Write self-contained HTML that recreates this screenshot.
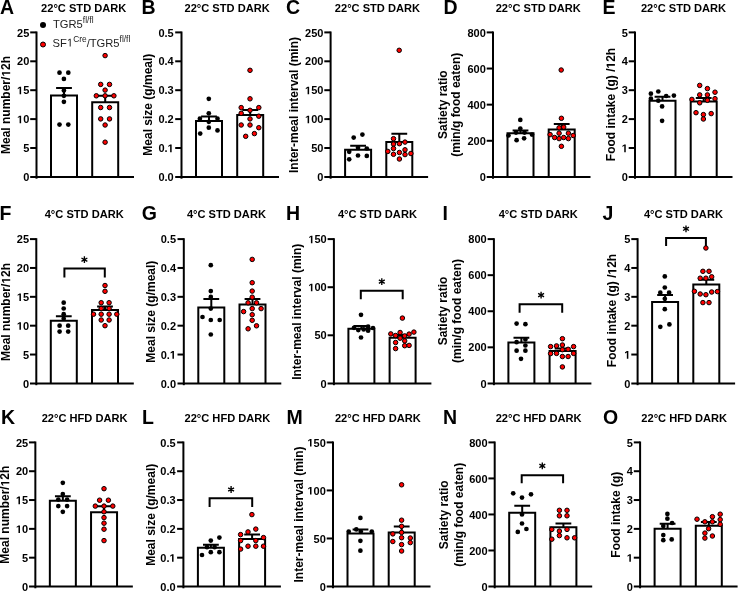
<!DOCTYPE html>
<html><head><meta charset="utf-8"><style>
html,body{margin:0;padding:0;background:#fff;}
body{width:738px;height:591px;overflow:hidden;}
svg{display:block;will-change:transform;}
text{font-family:"Liberation Sans", sans-serif;fill:#000;font-variant-ligatures:none;}
.tk{font-size:11px;font-weight:bold;}
.ti{font-size:11.1px;font-weight:bold;}
.lt{font-size:19.5px;font-weight:bold;}
.yl{font-size:12px;font-weight:bold;}
.ast{font-size:15px;font-weight:normal;}
.lg{font-size:11.2px;fill:#222;}
.sup{font-size:8.4px;}
</style></head><body>
<svg width="738" height="591" viewBox="0 0 738 591">
<rect width="738" height="591" fill="#fff"/>
<line x1="36.5" y1="31.5" x2="36.5" y2="178.7" stroke="#000" stroke-width="2.0"/>
<line x1="30.2" y1="176.9" x2="134" y2="176.9" stroke="#000" stroke-width="2.0"/>
<text x="29.3" y="181.05" text-anchor="end" class="tk">0</text>
<line x1="30.2" y1="148" x2="36.5" y2="148" stroke="#000" stroke-width="2.0"/>
<text x="29.3" y="152.15" text-anchor="end" class="tk">5</text>
<line x1="30.2" y1="119.1" x2="36.5" y2="119.1" stroke="#000" stroke-width="2.0"/>
<text x="29.3" y="123.25" text-anchor="end" class="tk"> 0</text>
<line x1="30.2" y1="90.2" x2="36.5" y2="90.2" stroke="#000" stroke-width="2.0"/>
<text x="29.3" y="94.35" text-anchor="end" class="tk"> 5</text>
<line x1="30.2" y1="61.3" x2="36.5" y2="61.3" stroke="#000" stroke-width="2.0"/>
<text x="29.3" y="65.45" text-anchor="end" class="tk">20</text>
<line x1="30.2" y1="32.4" x2="36.5" y2="32.4" stroke="#000" stroke-width="2.0"/>
<text x="29.3" y="36.55" text-anchor="end" class="tk">25</text>
<path d="M51 176.9V95.5H77V176.9" fill="none" stroke="#000" stroke-width="2.0"/>
<path d="M92.2 176.9V102.3H118.2V176.9" fill="none" stroke="#000" stroke-width="2.0"/>
<path d="M64 95.5V87.9M56.1 87.9H71.9" fill="none" stroke="#000" stroke-width="2.0"/>
<path d="M105.2 102.3V95.8M97.3 95.8H113.1" fill="none" stroke="#000" stroke-width="2.0"/>
<circle cx="59.5" cy="72.7" r="2.35" fill="#000"/>
<circle cx="68.3" cy="72.7" r="2.35" fill="#000"/>
<circle cx="63.9" cy="78.9" r="2.35" fill="#000"/>
<circle cx="63.9" cy="90.4" r="2.35" fill="#000"/>
<circle cx="63.9" cy="95.8" r="2.35" fill="#000"/>
<circle cx="63.9" cy="101.8" r="2.35" fill="#000"/>
<circle cx="59.5" cy="124.6" r="2.35" fill="#000"/>
<circle cx="68.3" cy="124.6" r="2.35" fill="#000"/>
<circle cx="105.1" cy="55.6" r="2.25" fill="#f00" stroke="#000" stroke-width="1"/>
<circle cx="100.7" cy="84.4" r="2.25" fill="#f00" stroke="#000" stroke-width="1"/>
<circle cx="109.5" cy="84.4" r="2.25" fill="#f00" stroke="#000" stroke-width="1"/>
<circle cx="105.1" cy="90.1" r="2.25" fill="#f00" stroke="#000" stroke-width="1"/>
<circle cx="96.3" cy="95.8" r="2.25" fill="#f00" stroke="#000" stroke-width="1"/>
<circle cx="105.1" cy="95.8" r="2.25" fill="#f00" stroke="#000" stroke-width="1"/>
<circle cx="113.9" cy="95.8" r="2.25" fill="#f00" stroke="#000" stroke-width="1"/>
<circle cx="100.7" cy="107.5" r="2.25" fill="#f00" stroke="#000" stroke-width="1"/>
<circle cx="109.5" cy="107.5" r="2.25" fill="#f00" stroke="#000" stroke-width="1"/>
<circle cx="100.7" cy="118.9" r="2.25" fill="#f00" stroke="#000" stroke-width="1"/>
<circle cx="109.5" cy="118.9" r="2.25" fill="#f00" stroke="#000" stroke-width="1"/>
<circle cx="105.1" cy="125" r="2.25" fill="#f00" stroke="#000" stroke-width="1"/>
<circle cx="105.1" cy="142.2" r="2.25" fill="#f00" stroke="#000" stroke-width="1"/>
<text x="41.1" y="12.3" class="ti">22°C STD DARK</text>
<text x="0" y="13.8" class="lt">A</text>
<text transform="translate(10.2 105) rotate(-90)" text-anchor="middle" class="yl">Meal number/ 2h</text>
<line x1="181.5" y1="31.5" x2="181.5" y2="178.7" stroke="#000" stroke-width="2.0"/>
<line x1="175.2" y1="176.9" x2="279" y2="176.9" stroke="#000" stroke-width="2.0"/>
<text x="173.7" y="181.05" text-anchor="end" class="tk">0.0</text>
<line x1="175.2" y1="148" x2="181.5" y2="148" stroke="#000" stroke-width="2.0"/>
<text x="173.7" y="152.15" text-anchor="end" class="tk">0. </text>
<line x1="175.2" y1="119.1" x2="181.5" y2="119.1" stroke="#000" stroke-width="2.0"/>
<text x="173.7" y="123.25" text-anchor="end" class="tk">0.2</text>
<line x1="175.2" y1="90.2" x2="181.5" y2="90.2" stroke="#000" stroke-width="2.0"/>
<text x="173.7" y="94.35" text-anchor="end" class="tk">0.3</text>
<line x1="175.2" y1="61.3" x2="181.5" y2="61.3" stroke="#000" stroke-width="2.0"/>
<text x="173.7" y="65.45" text-anchor="end" class="tk">0.4</text>
<line x1="175.2" y1="32.4" x2="181.5" y2="32.4" stroke="#000" stroke-width="2.0"/>
<text x="173.7" y="36.55" text-anchor="end" class="tk">0.5</text>
<path d="M196 176.9V120.9H222V176.9" fill="none" stroke="#000" stroke-width="2.0"/>
<path d="M237.2 176.9V115.1H263.2V176.9" fill="none" stroke="#000" stroke-width="2.0"/>
<path d="M209 120.9V116.4M201.1 116.4H216.9" fill="none" stroke="#000" stroke-width="2.0"/>
<path d="M250.2 115.1V110M242.3 110H258.1" fill="none" stroke="#000" stroke-width="2.0"/>
<circle cx="208.8" cy="98.8" r="2.35" fill="#000"/>
<circle cx="208.8" cy="113.3" r="2.35" fill="#000"/>
<circle cx="199.9" cy="118.7" r="2.35" fill="#000"/>
<circle cx="217.5" cy="118.7" r="2.35" fill="#000"/>
<circle cx="208.8" cy="121.8" r="2.35" fill="#000"/>
<circle cx="208.8" cy="127.7" r="2.35" fill="#000"/>
<circle cx="200.2" cy="133.6" r="2.35" fill="#000"/>
<circle cx="217.5" cy="130.4" r="2.35" fill="#000"/>
<circle cx="250" cy="70.3" r="2.25" fill="#f00" stroke="#000" stroke-width="1"/>
<circle cx="250" cy="98.8" r="2.25" fill="#f00" stroke="#000" stroke-width="1"/>
<circle cx="241.2" cy="107.6" r="2.25" fill="#f00" stroke="#000" stroke-width="1"/>
<circle cx="258.8" cy="107.6" r="2.25" fill="#f00" stroke="#000" stroke-width="1"/>
<circle cx="250" cy="110.3" r="2.25" fill="#f00" stroke="#000" stroke-width="1"/>
<circle cx="241.2" cy="113.3" r="2.25" fill="#f00" stroke="#000" stroke-width="1"/>
<circle cx="258.8" cy="116.2" r="2.25" fill="#f00" stroke="#000" stroke-width="1"/>
<circle cx="250" cy="118.9" r="2.25" fill="#f00" stroke="#000" stroke-width="1"/>
<circle cx="241.2" cy="125" r="2.25" fill="#f00" stroke="#000" stroke-width="1"/>
<circle cx="250" cy="125" r="2.25" fill="#f00" stroke="#000" stroke-width="1"/>
<circle cx="258.8" cy="127.7" r="2.25" fill="#f00" stroke="#000" stroke-width="1"/>
<circle cx="254.4" cy="133.6" r="2.25" fill="#f00" stroke="#000" stroke-width="1"/>
<circle cx="245.7" cy="136.3" r="2.25" fill="#f00" stroke="#000" stroke-width="1"/>
<text x="184.5" y="12.3" class="ti">22°C STD DARK</text>
<text x="141.4" y="13.8" class="lt">B</text>
<text transform="translate(152.3 104.7) rotate(-90)" text-anchor="middle" class="yl">Meal size (g/meal)</text>
<line x1="330.6" y1="31.5" x2="330.6" y2="178.7" stroke="#000" stroke-width="2.0"/>
<line x1="324.3" y1="176.9" x2="428.1" y2="176.9" stroke="#000" stroke-width="2.0"/>
<text x="323.4" y="181.05" text-anchor="end" class="tk">0</text>
<line x1="324.3" y1="148" x2="330.6" y2="148" stroke="#000" stroke-width="2.0"/>
<text x="323.4" y="152.15" text-anchor="end" class="tk">50</text>
<line x1="324.3" y1="119.1" x2="330.6" y2="119.1" stroke="#000" stroke-width="2.0"/>
<text x="323.4" y="123.25" text-anchor="end" class="tk"> 00</text>
<line x1="324.3" y1="90.2" x2="330.6" y2="90.2" stroke="#000" stroke-width="2.0"/>
<text x="323.4" y="94.35" text-anchor="end" class="tk"> 50</text>
<line x1="324.3" y1="61.3" x2="330.6" y2="61.3" stroke="#000" stroke-width="2.0"/>
<text x="323.4" y="65.45" text-anchor="end" class="tk">200</text>
<line x1="324.3" y1="32.4" x2="330.6" y2="32.4" stroke="#000" stroke-width="2.0"/>
<text x="323.4" y="36.55" text-anchor="end" class="tk">250</text>
<path d="M345.1 176.9V149.8H371.1V176.9" fill="none" stroke="#000" stroke-width="2.0"/>
<path d="M386.3 176.9V142H412.3V176.9" fill="none" stroke="#000" stroke-width="2.0"/>
<path d="M358.1 149.8V145.7M350.2 145.7H366" fill="none" stroke="#000" stroke-width="2.0"/>
<path d="M399.3 142V133.8M391.4 133.8H407.2" fill="none" stroke="#000" stroke-width="2.0"/>
<circle cx="353.7" cy="137.6" r="2.35" fill="#000"/>
<circle cx="362.4" cy="134.6" r="2.35" fill="#000"/>
<circle cx="349.2" cy="151.8" r="2.35" fill="#000"/>
<circle cx="358" cy="147.8" r="2.35" fill="#000"/>
<circle cx="366.8" cy="148.5" r="2.35" fill="#000"/>
<circle cx="358" cy="155.5" r="2.35" fill="#000"/>
<circle cx="366.8" cy="155.9" r="2.35" fill="#000"/>
<circle cx="349.2" cy="159.3" r="2.35" fill="#000"/>
<circle cx="399.2" cy="50.3" r="2.25" fill="#f00" stroke="#000" stroke-width="1"/>
<circle cx="393.5" cy="138.7" r="2.25" fill="#f00" stroke="#000" stroke-width="1"/>
<circle cx="393.5" cy="144.1" r="2.25" fill="#f00" stroke="#000" stroke-width="1"/>
<circle cx="399.4" cy="143.7" r="2.25" fill="#f00" stroke="#000" stroke-width="1"/>
<circle cx="405" cy="142.1" r="2.25" fill="#f00" stroke="#000" stroke-width="1"/>
<circle cx="393.5" cy="148.5" r="2.25" fill="#f00" stroke="#000" stroke-width="1"/>
<circle cx="405" cy="149.8" r="2.25" fill="#f00" stroke="#000" stroke-width="1"/>
<circle cx="387.8" cy="151.4" r="2.25" fill="#f00" stroke="#000" stroke-width="1"/>
<circle cx="399.4" cy="152.5" r="2.25" fill="#f00" stroke="#000" stroke-width="1"/>
<circle cx="393.5" cy="154.3" r="2.25" fill="#f00" stroke="#000" stroke-width="1"/>
<circle cx="405" cy="154.6" r="2.25" fill="#f00" stroke="#000" stroke-width="1"/>
<circle cx="410.9" cy="153.5" r="2.25" fill="#f00" stroke="#000" stroke-width="1"/>
<circle cx="399.4" cy="159" r="2.25" fill="#f00" stroke="#000" stroke-width="1"/>
<text x="334.8" y="12.3" class="ti">22°C STD DARK</text>
<text x="286" y="13.8" class="lt">C</text>
<text transform="translate(297.55 105) rotate(-90)" text-anchor="middle" class="yl">Inter-meal interval (min)</text>
<line x1="493" y1="31.5" x2="493" y2="178.7" stroke="#000" stroke-width="2.0"/>
<line x1="486.7" y1="176.9" x2="590.5" y2="176.9" stroke="#000" stroke-width="2.0"/>
<text x="485.8" y="181.05" text-anchor="end" class="tk">0</text>
<line x1="486.7" y1="140.78" x2="493" y2="140.78" stroke="#000" stroke-width="2.0"/>
<text x="485.8" y="144.93" text-anchor="end" class="tk">200</text>
<line x1="486.7" y1="104.65" x2="493" y2="104.65" stroke="#000" stroke-width="2.0"/>
<text x="485.8" y="108.8" text-anchor="end" class="tk">400</text>
<line x1="486.7" y1="68.53" x2="493" y2="68.53" stroke="#000" stroke-width="2.0"/>
<text x="485.8" y="72.68" text-anchor="end" class="tk">600</text>
<line x1="486.7" y1="32.4" x2="493" y2="32.4" stroke="#000" stroke-width="2.0"/>
<text x="485.8" y="36.55" text-anchor="end" class="tk">800</text>
<path d="M507.5 176.9V133.3H533.5V176.9" fill="none" stroke="#000" stroke-width="2.0"/>
<path d="M548.7 176.9V129.5H574.7V176.9" fill="none" stroke="#000" stroke-width="2.0"/>
<path d="M520.5 133.3V130.5M512.6 130.5H528.4" fill="none" stroke="#000" stroke-width="2.0"/>
<path d="M561.7 129.5V124M553.8 124H569.6" fill="none" stroke="#000" stroke-width="2.0"/>
<circle cx="520.3" cy="119.9" r="2.35" fill="#000"/>
<circle cx="520.3" cy="128.5" r="2.35" fill="#000"/>
<circle cx="524.5" cy="132.6" r="2.35" fill="#000"/>
<circle cx="516" cy="132.6" r="2.35" fill="#000"/>
<circle cx="508.5" cy="135.5" r="2.35" fill="#000"/>
<circle cx="532" cy="134.6" r="2.35" fill="#000"/>
<circle cx="516.6" cy="140.2" r="2.35" fill="#000"/>
<circle cx="524.1" cy="138.3" r="2.35" fill="#000"/>
<circle cx="561.2" cy="70" r="2.25" fill="#f00" stroke="#000" stroke-width="1"/>
<circle cx="561.4" cy="118.3" r="2.25" fill="#f00" stroke="#000" stroke-width="1"/>
<circle cx="559.1" cy="127.8" r="2.25" fill="#f00" stroke="#000" stroke-width="1"/>
<circle cx="563.7" cy="127.1" r="2.25" fill="#f00" stroke="#000" stroke-width="1"/>
<circle cx="559.1" cy="133.2" r="2.25" fill="#f00" stroke="#000" stroke-width="1"/>
<circle cx="568.4" cy="133.2" r="2.25" fill="#f00" stroke="#000" stroke-width="1"/>
<circle cx="550.1" cy="134.6" r="2.25" fill="#f00" stroke="#000" stroke-width="1"/>
<circle cx="573.2" cy="135.5" r="2.25" fill="#f00" stroke="#000" stroke-width="1"/>
<circle cx="554.6" cy="137.5" r="2.25" fill="#f00" stroke="#000" stroke-width="1"/>
<circle cx="559.1" cy="138.6" r="2.25" fill="#f00" stroke="#000" stroke-width="1"/>
<circle cx="563.7" cy="137.5" r="2.25" fill="#f00" stroke="#000" stroke-width="1"/>
<circle cx="568.4" cy="138.6" r="2.25" fill="#f00" stroke="#000" stroke-width="1"/>
<circle cx="561.4" cy="146.3" r="2.25" fill="#f00" stroke="#000" stroke-width="1"/>
<text x="495.7" y="12.3" class="ti">22°C STD DARK</text>
<text x="443.4" y="13.8" class="lt">D</text>
<text transform="translate(446.5 104.7) rotate(-90)" text-anchor="middle" class="yl">Satiety ratio</text>
<text transform="translate(460.1 104.7) rotate(-90)" text-anchor="middle" class="yl">(min/g food eaten)</text>
<line x1="635" y1="31.5" x2="635" y2="178.7" stroke="#000" stroke-width="2.0"/>
<line x1="628.7" y1="176.9" x2="732.5" y2="176.9" stroke="#000" stroke-width="2.0"/>
<text x="627.8" y="181.05" text-anchor="end" class="tk">0</text>
<line x1="628.7" y1="148" x2="635" y2="148" stroke="#000" stroke-width="2.0"/>
<text x="627.8" y="152.15" text-anchor="end" class="tk"> </text>
<line x1="628.7" y1="119.1" x2="635" y2="119.1" stroke="#000" stroke-width="2.0"/>
<text x="627.8" y="123.25" text-anchor="end" class="tk">2</text>
<line x1="628.7" y1="90.2" x2="635" y2="90.2" stroke="#000" stroke-width="2.0"/>
<text x="627.8" y="94.35" text-anchor="end" class="tk">3</text>
<line x1="628.7" y1="61.3" x2="635" y2="61.3" stroke="#000" stroke-width="2.0"/>
<text x="627.8" y="65.45" text-anchor="end" class="tk">4</text>
<line x1="628.7" y1="32.4" x2="635" y2="32.4" stroke="#000" stroke-width="2.0"/>
<text x="627.8" y="36.55" text-anchor="end" class="tk">5</text>
<path d="M649.5 176.9V100.7H675.5V176.9" fill="none" stroke="#000" stroke-width="2.0"/>
<path d="M690.7 176.9V101.4H716.7V176.9" fill="none" stroke="#000" stroke-width="2.0"/>
<path d="M662.5 100.7V96.7M654.6 96.7H670.4" fill="none" stroke="#000" stroke-width="2.0"/>
<path d="M703.7 101.4V98M695.8 98H711.6" fill="none" stroke="#000" stroke-width="2.0"/>
<circle cx="650.9" cy="93.7" r="2.35" fill="#000"/>
<circle cx="658.3" cy="91.5" r="2.35" fill="#000"/>
<circle cx="650.9" cy="98.7" r="2.35" fill="#000"/>
<circle cx="666.2" cy="96" r="2.35" fill="#000"/>
<circle cx="673.9" cy="95.6" r="2.35" fill="#000"/>
<circle cx="658.3" cy="100.7" r="2.35" fill="#000"/>
<circle cx="662.1" cy="106.4" r="2.35" fill="#000"/>
<circle cx="662.1" cy="120.8" r="2.35" fill="#000"/>
<circle cx="699.7" cy="85.4" r="2.25" fill="#f00" stroke="#000" stroke-width="1"/>
<circle cx="707.4" cy="88.6" r="2.25" fill="#f00" stroke="#000" stroke-width="1"/>
<circle cx="715" cy="92.2" r="2.25" fill="#f00" stroke="#000" stroke-width="1"/>
<circle cx="699.7" cy="94.9" r="2.25" fill="#f00" stroke="#000" stroke-width="1"/>
<circle cx="707.4" cy="94.9" r="2.25" fill="#f00" stroke="#000" stroke-width="1"/>
<circle cx="691.9" cy="99.4" r="2.25" fill="#f00" stroke="#000" stroke-width="1"/>
<circle cx="715" cy="98.7" r="2.25" fill="#f00" stroke="#000" stroke-width="1"/>
<circle cx="707.4" cy="100.3" r="2.25" fill="#f00" stroke="#000" stroke-width="1"/>
<circle cx="699.7" cy="102.8" r="2.25" fill="#f00" stroke="#000" stroke-width="1"/>
<circle cx="696" cy="112.7" r="2.25" fill="#f00" stroke="#000" stroke-width="1"/>
<circle cx="703.4" cy="114.6" r="2.25" fill="#f00" stroke="#000" stroke-width="1"/>
<circle cx="711.2" cy="113.6" r="2.25" fill="#f00" stroke="#000" stroke-width="1"/>
<circle cx="703.4" cy="119" r="2.25" fill="#f00" stroke="#000" stroke-width="1"/>
<text x="640.9" y="12.3" class="ti">22°C STD DARK</text>
<text x="602.5" y="13.8" class="lt">E</text>
<text transform="translate(614.9 104.5) rotate(-90)" text-anchor="middle" class="yl">Food intake (g) / 2h</text>
<line x1="36.3" y1="238.2" x2="36.3" y2="385.2" stroke="#000" stroke-width="2.0"/>
<line x1="30" y1="383.4" x2="133.8" y2="383.4" stroke="#000" stroke-width="2.0"/>
<text x="29.1" y="387.55" text-anchor="end" class="tk">0</text>
<line x1="30" y1="354.54" x2="36.3" y2="354.54" stroke="#000" stroke-width="2.0"/>
<text x="29.1" y="358.69" text-anchor="end" class="tk">5</text>
<line x1="30" y1="325.68" x2="36.3" y2="325.68" stroke="#000" stroke-width="2.0"/>
<text x="29.1" y="329.83" text-anchor="end" class="tk"> 0</text>
<line x1="30" y1="296.82" x2="36.3" y2="296.82" stroke="#000" stroke-width="2.0"/>
<text x="29.1" y="300.97" text-anchor="end" class="tk"> 5</text>
<line x1="30" y1="267.96" x2="36.3" y2="267.96" stroke="#000" stroke-width="2.0"/>
<text x="29.1" y="272.11" text-anchor="end" class="tk">20</text>
<line x1="30" y1="239.1" x2="36.3" y2="239.1" stroke="#000" stroke-width="2.0"/>
<text x="29.1" y="243.25" text-anchor="end" class="tk">25</text>
<path d="M50.8 383.4V320.7H76.8V383.4" fill="none" stroke="#000" stroke-width="2.0"/>
<path d="M92 383.4V309.9H118V383.4" fill="none" stroke="#000" stroke-width="2.0"/>
<path d="M63.8 320.7V316.2M55.9 316.2H71.7" fill="none" stroke="#000" stroke-width="2.0"/>
<path d="M105 309.9V306.5M97.1 306.5H112.9" fill="none" stroke="#000" stroke-width="2.0"/>
<circle cx="63.7" cy="302.7" r="2.35" fill="#000"/>
<circle cx="63.7" cy="308.5" r="2.35" fill="#000"/>
<circle cx="63.7" cy="314.2" r="2.35" fill="#000"/>
<circle cx="63.7" cy="318.7" r="2.35" fill="#000"/>
<circle cx="59.6" cy="325.7" r="2.35" fill="#000"/>
<circle cx="68.2" cy="325.7" r="2.35" fill="#000"/>
<circle cx="59.6" cy="331.6" r="2.35" fill="#000"/>
<circle cx="68.2" cy="331.6" r="2.35" fill="#000"/>
<circle cx="105" cy="285.5" r="2.25" fill="#f00" stroke="#000" stroke-width="1"/>
<circle cx="105" cy="291.3" r="2.25" fill="#f00" stroke="#000" stroke-width="1"/>
<circle cx="101.2" cy="302.7" r="2.25" fill="#f00" stroke="#000" stroke-width="1"/>
<circle cx="109.1" cy="302.7" r="2.25" fill="#f00" stroke="#000" stroke-width="1"/>
<circle cx="101.2" cy="308.5" r="2.25" fill="#f00" stroke="#000" stroke-width="1"/>
<circle cx="109.1" cy="308.5" r="2.25" fill="#f00" stroke="#000" stroke-width="1"/>
<circle cx="93.5" cy="314.2" r="2.25" fill="#f00" stroke="#000" stroke-width="1"/>
<circle cx="101.2" cy="314.2" r="2.25" fill="#f00" stroke="#000" stroke-width="1"/>
<circle cx="109.1" cy="314.2" r="2.25" fill="#f00" stroke="#000" stroke-width="1"/>
<circle cx="116.8" cy="314.2" r="2.25" fill="#f00" stroke="#000" stroke-width="1"/>
<circle cx="101.2" cy="320" r="2.25" fill="#f00" stroke="#000" stroke-width="1"/>
<circle cx="109.1" cy="320" r="2.25" fill="#f00" stroke="#000" stroke-width="1"/>
<circle cx="105" cy="325.7" r="2.25" fill="#f00" stroke="#000" stroke-width="1"/>
<path d="M64.4 277.5V268.6H104.8V277.5" fill="none" stroke="#000" stroke-width="2.0"/>
<path d="M84.4 256.3V263.1M81.45 258L87.35 261.4M81.45 261.4L87.35 258" fill="none" stroke="#000" stroke-width="1.35"/>
<text x="44.7" y="218.1" class="ti">4°C STD DARK</text>
<text x="-0.5" y="220" class="lt">F</text>
<text transform="translate(10.2 312) rotate(-90)" text-anchor="middle" class="yl">Meal number/ 2h</text>
<line x1="183.8" y1="238.2" x2="183.8" y2="385.2" stroke="#000" stroke-width="2.0"/>
<line x1="177.5" y1="383.4" x2="281.3" y2="383.4" stroke="#000" stroke-width="2.0"/>
<text x="176" y="387.55" text-anchor="end" class="tk">0.0</text>
<line x1="177.5" y1="354.54" x2="183.8" y2="354.54" stroke="#000" stroke-width="2.0"/>
<text x="176" y="358.69" text-anchor="end" class="tk">0. </text>
<line x1="177.5" y1="325.68" x2="183.8" y2="325.68" stroke="#000" stroke-width="2.0"/>
<text x="176" y="329.83" text-anchor="end" class="tk">0.2</text>
<line x1="177.5" y1="296.82" x2="183.8" y2="296.82" stroke="#000" stroke-width="2.0"/>
<text x="176" y="300.97" text-anchor="end" class="tk">0.3</text>
<line x1="177.5" y1="267.96" x2="183.8" y2="267.96" stroke="#000" stroke-width="2.0"/>
<text x="176" y="272.11" text-anchor="end" class="tk">0.4</text>
<line x1="177.5" y1="239.1" x2="183.8" y2="239.1" stroke="#000" stroke-width="2.0"/>
<text x="176" y="243.25" text-anchor="end" class="tk">0.5</text>
<path d="M198.3 383.4V307.5H224.3V383.4" fill="none" stroke="#000" stroke-width="2.0"/>
<path d="M239.5 383.4V304.5H265.5V383.4" fill="none" stroke="#000" stroke-width="2.0"/>
<path d="M211.3 307.5V299M203.4 299H219.2" fill="none" stroke="#000" stroke-width="2.0"/>
<path d="M252.5 304.5V299M244.6 299H260.4" fill="none" stroke="#000" stroke-width="2.0"/>
<circle cx="210.8" cy="265.2" r="2.35" fill="#000"/>
<circle cx="210.8" cy="291.1" r="2.35" fill="#000"/>
<circle cx="210.8" cy="296.9" r="2.35" fill="#000"/>
<circle cx="210.8" cy="308.6" r="2.35" fill="#000"/>
<circle cx="202.5" cy="317" r="2.35" fill="#000"/>
<circle cx="210.8" cy="320" r="2.35" fill="#000"/>
<circle cx="219.7" cy="320" r="2.35" fill="#000"/>
<circle cx="210.8" cy="334.5" r="2.35" fill="#000"/>
<circle cx="252.2" cy="259.4" r="2.25" fill="#f00" stroke="#000" stroke-width="1"/>
<circle cx="252.2" cy="282.7" r="2.25" fill="#f00" stroke="#000" stroke-width="1"/>
<circle cx="252.2" cy="291.1" r="2.25" fill="#f00" stroke="#000" stroke-width="1"/>
<circle cx="252.2" cy="297.2" r="2.25" fill="#f00" stroke="#000" stroke-width="1"/>
<circle cx="248.1" cy="302.8" r="2.25" fill="#f00" stroke="#000" stroke-width="1"/>
<circle cx="256.5" cy="302.8" r="2.25" fill="#f00" stroke="#000" stroke-width="1"/>
<circle cx="252.2" cy="308.6" r="2.25" fill="#f00" stroke="#000" stroke-width="1"/>
<circle cx="261.1" cy="308.6" r="2.25" fill="#f00" stroke="#000" stroke-width="1"/>
<circle cx="243.6" cy="311.6" r="2.25" fill="#f00" stroke="#000" stroke-width="1"/>
<circle cx="252.2" cy="314.7" r="2.25" fill="#f00" stroke="#000" stroke-width="1"/>
<circle cx="252.2" cy="320.3" r="2.25" fill="#f00" stroke="#000" stroke-width="1"/>
<circle cx="256.5" cy="325.8" r="2.25" fill="#f00" stroke="#000" stroke-width="1"/>
<circle cx="248.1" cy="328.8" r="2.25" fill="#f00" stroke="#000" stroke-width="1"/>
<text x="186.9" y="218.1" class="ti">4°C STD DARK</text>
<text x="141.8" y="220" class="lt">G</text>
<text transform="translate(155.4 311.7) rotate(-90)" text-anchor="middle" class="yl">Meal size (g/meal)</text>
<line x1="333.9" y1="238.2" x2="333.9" y2="385.2" stroke="#000" stroke-width="2.0"/>
<line x1="327.6" y1="383.4" x2="431.4" y2="383.4" stroke="#000" stroke-width="2.0"/>
<text x="326.7" y="387.55" text-anchor="end" class="tk">0</text>
<line x1="327.6" y1="335.3" x2="333.9" y2="335.3" stroke="#000" stroke-width="2.0"/>
<text x="326.7" y="339.45" text-anchor="end" class="tk">50</text>
<line x1="327.6" y1="287.2" x2="333.9" y2="287.2" stroke="#000" stroke-width="2.0"/>
<text x="326.7" y="291.35" text-anchor="end" class="tk"> 00</text>
<line x1="327.6" y1="239.1" x2="333.9" y2="239.1" stroke="#000" stroke-width="2.0"/>
<text x="326.7" y="243.25" text-anchor="end" class="tk"> 50</text>
<path d="M348.4 383.4V328.7H374.4V383.4" fill="none" stroke="#000" stroke-width="2.0"/>
<path d="M389.6 383.4V337.8H415.6V383.4" fill="none" stroke="#000" stroke-width="2.0"/>
<path d="M361.4 328.7V326M353.5 326H369.3" fill="none" stroke="#000" stroke-width="2.0"/>
<path d="M402.6 337.8V335M394.7 335H410.5" fill="none" stroke="#000" stroke-width="2.0"/>
<circle cx="361" cy="314.8" r="2.35" fill="#000"/>
<circle cx="354" cy="327.8" r="2.35" fill="#000"/>
<circle cx="358.3" cy="330.1" r="2.35" fill="#000"/>
<circle cx="363.7" cy="329.4" r="2.35" fill="#000"/>
<circle cx="368.1" cy="326.7" r="2.35" fill="#000"/>
<circle cx="368.1" cy="330.7" r="2.35" fill="#000"/>
<circle cx="373" cy="328" r="2.35" fill="#000"/>
<circle cx="361" cy="337.5" r="2.35" fill="#000"/>
<circle cx="402.4" cy="318.1" r="2.25" fill="#f00" stroke="#000" stroke-width="1"/>
<circle cx="390.8" cy="333.9" r="2.25" fill="#f00" stroke="#000" stroke-width="1"/>
<circle cx="395.6" cy="335.5" r="2.25" fill="#f00" stroke="#000" stroke-width="1"/>
<circle cx="400.1" cy="332.5" r="2.25" fill="#f00" stroke="#000" stroke-width="1"/>
<circle cx="404.7" cy="335.9" r="2.25" fill="#f00" stroke="#000" stroke-width="1"/>
<circle cx="409.1" cy="334.1" r="2.25" fill="#f00" stroke="#000" stroke-width="1"/>
<circle cx="413.9" cy="332.1" r="2.25" fill="#f00" stroke="#000" stroke-width="1"/>
<circle cx="400.1" cy="338.2" r="2.25" fill="#f00" stroke="#000" stroke-width="1"/>
<circle cx="404.7" cy="340.9" r="2.25" fill="#f00" stroke="#000" stroke-width="1"/>
<circle cx="395.6" cy="342.5" r="2.25" fill="#f00" stroke="#000" stroke-width="1"/>
<circle cx="404.7" cy="345.7" r="2.25" fill="#f00" stroke="#000" stroke-width="1"/>
<circle cx="409.1" cy="345.4" r="2.25" fill="#f00" stroke="#000" stroke-width="1"/>
<circle cx="395.6" cy="348.6" r="2.25" fill="#f00" stroke="#000" stroke-width="1"/>
<path d="M360.8 299.2V290.8H402.7V299.2" fill="none" stroke="#000" stroke-width="2.0"/>
<path d="M381.8 278.2V285M378.85 279.9L384.75 283.3M378.85 283.3L384.75 279.9" fill="none" stroke="#000" stroke-width="1.35"/>
<text x="337.9" y="218.1" class="ti">4°C STD DARK</text>
<text x="286" y="220" class="lt">H</text>
<text transform="translate(300.5 311.8) rotate(-90)" text-anchor="middle" class="yl">Inter-meal interval (min)</text>
<line x1="493.9" y1="238.2" x2="493.9" y2="385.2" stroke="#000" stroke-width="2.0"/>
<line x1="487.6" y1="383.4" x2="591.4" y2="383.4" stroke="#000" stroke-width="2.0"/>
<text x="486.7" y="387.55" text-anchor="end" class="tk">0</text>
<line x1="487.6" y1="347.32" x2="493.9" y2="347.32" stroke="#000" stroke-width="2.0"/>
<text x="486.7" y="351.47" text-anchor="end" class="tk">200</text>
<line x1="487.6" y1="311.25" x2="493.9" y2="311.25" stroke="#000" stroke-width="2.0"/>
<text x="486.7" y="315.4" text-anchor="end" class="tk">400</text>
<line x1="487.6" y1="275.17" x2="493.9" y2="275.17" stroke="#000" stroke-width="2.0"/>
<text x="486.7" y="279.32" text-anchor="end" class="tk">600</text>
<line x1="487.6" y1="239.1" x2="493.9" y2="239.1" stroke="#000" stroke-width="2.0"/>
<text x="486.7" y="243.25" text-anchor="end" class="tk">800</text>
<path d="M508.4 383.4V342.5H534.4V383.4" fill="none" stroke="#000" stroke-width="2.0"/>
<path d="M549.6 383.4V351.1H575.6V383.4" fill="none" stroke="#000" stroke-width="2.0"/>
<path d="M521.4 342.5V337.8M513.5 337.8H529.3" fill="none" stroke="#000" stroke-width="2.0"/>
<path d="M562.6 351.1V348.6M554.7 348.6H570.5" fill="none" stroke="#000" stroke-width="2.0"/>
<circle cx="516.6" cy="323.6" r="2.35" fill="#000"/>
<circle cx="525.4" cy="324.2" r="2.35" fill="#000"/>
<circle cx="516.6" cy="342.2" r="2.35" fill="#000"/>
<circle cx="525.4" cy="339.5" r="2.35" fill="#000"/>
<circle cx="525.4" cy="345.5" r="2.35" fill="#000"/>
<circle cx="516.6" cy="350.7" r="2.35" fill="#000"/>
<circle cx="525.4" cy="350.7" r="2.35" fill="#000"/>
<circle cx="521" cy="358.8" r="2.35" fill="#000"/>
<circle cx="562.4" cy="338.7" r="2.25" fill="#f00" stroke="#000" stroke-width="1"/>
<circle cx="550.6" cy="346.6" r="2.25" fill="#f00" stroke="#000" stroke-width="1"/>
<circle cx="556.5" cy="345.9" r="2.25" fill="#f00" stroke="#000" stroke-width="1"/>
<circle cx="562.4" cy="345" r="2.25" fill="#f00" stroke="#000" stroke-width="1"/>
<circle cx="573.6" cy="346.6" r="2.25" fill="#f00" stroke="#000" stroke-width="1"/>
<circle cx="562.4" cy="349.7" r="2.25" fill="#f00" stroke="#000" stroke-width="1"/>
<circle cx="568.1" cy="349.3" r="2.25" fill="#f00" stroke="#000" stroke-width="1"/>
<circle cx="550.6" cy="353.6" r="2.25" fill="#f00" stroke="#000" stroke-width="1"/>
<circle cx="556.5" cy="353.4" r="2.25" fill="#f00" stroke="#000" stroke-width="1"/>
<circle cx="573.6" cy="353.4" r="2.25" fill="#f00" stroke="#000" stroke-width="1"/>
<circle cx="562.4" cy="356.5" r="2.25" fill="#f00" stroke="#000" stroke-width="1"/>
<circle cx="568.1" cy="356.5" r="2.25" fill="#f00" stroke="#000" stroke-width="1"/>
<circle cx="562.4" cy="366.9" r="2.25" fill="#f00" stroke="#000" stroke-width="1"/>
<path d="M519.6 312.7V304.2H562.2V312.7" fill="none" stroke="#000" stroke-width="2.0"/>
<path d="M541.1 291.7V298.5M538.15 293.4L544.05 296.8M538.15 296.8L544.05 293.4" fill="none" stroke="#000" stroke-width="1.35"/>
<text x="498.7" y="218.1" class="ti">4°C STD DARK</text>
<text x="442.5" y="220" class="lt">I</text>
<text transform="translate(446.5 311) rotate(-90)" text-anchor="middle" class="yl">Satiety ratio</text>
<text transform="translate(461.1 311) rotate(-90)" text-anchor="middle" class="yl">(min/g food eaten)</text>
<line x1="637.6" y1="238.2" x2="637.6" y2="385.2" stroke="#000" stroke-width="2.0"/>
<line x1="631.3" y1="383.4" x2="735.1" y2="383.4" stroke="#000" stroke-width="2.0"/>
<text x="630.4" y="387.55" text-anchor="end" class="tk">0</text>
<line x1="631.3" y1="354.54" x2="637.6" y2="354.54" stroke="#000" stroke-width="2.0"/>
<text x="630.4" y="358.69" text-anchor="end" class="tk"> </text>
<line x1="631.3" y1="325.68" x2="637.6" y2="325.68" stroke="#000" stroke-width="2.0"/>
<text x="630.4" y="329.83" text-anchor="end" class="tk">2</text>
<line x1="631.3" y1="296.82" x2="637.6" y2="296.82" stroke="#000" stroke-width="2.0"/>
<text x="630.4" y="300.97" text-anchor="end" class="tk">3</text>
<line x1="631.3" y1="267.96" x2="637.6" y2="267.96" stroke="#000" stroke-width="2.0"/>
<text x="630.4" y="272.11" text-anchor="end" class="tk">4</text>
<line x1="631.3" y1="239.1" x2="637.6" y2="239.1" stroke="#000" stroke-width="2.0"/>
<text x="630.4" y="243.25" text-anchor="end" class="tk">5</text>
<path d="M652.1 383.4V301.9H678.1V383.4" fill="none" stroke="#000" stroke-width="2.0"/>
<path d="M693.3 383.4V284.6H719.3V383.4" fill="none" stroke="#000" stroke-width="2.0"/>
<path d="M665.1 301.9V295M657.2 295H673" fill="none" stroke="#000" stroke-width="2.0"/>
<path d="M706.3 284.6V279.8M698.4 279.8H714.2" fill="none" stroke="#000" stroke-width="2.0"/>
<circle cx="664.8" cy="276.4" r="2.35" fill="#000"/>
<circle cx="664.8" cy="287.5" r="2.35" fill="#000"/>
<circle cx="660.3" cy="292.7" r="2.35" fill="#000"/>
<circle cx="669.1" cy="292.7" r="2.35" fill="#000"/>
<circle cx="664.8" cy="298.8" r="2.35" fill="#000"/>
<circle cx="664.8" cy="309.2" r="2.35" fill="#000"/>
<circle cx="660.3" cy="326.8" r="2.35" fill="#000"/>
<circle cx="669.4" cy="324.4" r="2.35" fill="#000"/>
<circle cx="705.9" cy="248" r="2.25" fill="#f00" stroke="#000" stroke-width="1"/>
<circle cx="702.9" cy="271.3" r="2.25" fill="#f00" stroke="#000" stroke-width="1"/>
<circle cx="709" cy="271.3" r="2.25" fill="#f00" stroke="#000" stroke-width="1"/>
<circle cx="700.2" cy="278.2" r="2.25" fill="#f00" stroke="#000" stroke-width="1"/>
<circle cx="705.9" cy="278.2" r="2.25" fill="#f00" stroke="#000" stroke-width="1"/>
<circle cx="711.7" cy="276.8" r="2.25" fill="#f00" stroke="#000" stroke-width="1"/>
<circle cx="694.4" cy="291.3" r="2.25" fill="#f00" stroke="#000" stroke-width="1"/>
<circle cx="700.2" cy="294" r="2.25" fill="#f00" stroke="#000" stroke-width="1"/>
<circle cx="705.9" cy="294.7" r="2.25" fill="#f00" stroke="#000" stroke-width="1"/>
<circle cx="711.7" cy="292" r="2.25" fill="#f00" stroke="#000" stroke-width="1"/>
<circle cx="717.4" cy="291.6" r="2.25" fill="#f00" stroke="#000" stroke-width="1"/>
<circle cx="702.9" cy="302.6" r="2.25" fill="#f00" stroke="#000" stroke-width="1"/>
<circle cx="709" cy="302.6" r="2.25" fill="#f00" stroke="#000" stroke-width="1"/>
<path d="M666.1 246.1V238.1H705.9V246.1" fill="none" stroke="#000" stroke-width="2.0"/>
<path d="M686 225.4V232.2M683.05 227.1L688.95 230.5M683.05 230.5L688.95 227.1" fill="none" stroke="#000" stroke-width="1.35"/>
<text x="643.9" y="218.1" class="ti">4°C STD DARK</text>
<text x="602.5" y="220" class="lt">J</text>
<text transform="translate(616.4 310.5) rotate(-90)" text-anchor="middle" class="yl">Food intake (g) / 2h</text>
<line x1="35.35" y1="441.5" x2="35.35" y2="588.3" stroke="#000" stroke-width="2.0"/>
<line x1="29.05" y1="586.5" x2="132.85" y2="586.5" stroke="#000" stroke-width="2.0"/>
<text x="28.15" y="590.65" text-anchor="end" class="tk">0</text>
<line x1="29.05" y1="557.68" x2="35.35" y2="557.68" stroke="#000" stroke-width="2.0"/>
<text x="28.15" y="561.83" text-anchor="end" class="tk">5</text>
<line x1="29.05" y1="528.86" x2="35.35" y2="528.86" stroke="#000" stroke-width="2.0"/>
<text x="28.15" y="533.01" text-anchor="end" class="tk"> 0</text>
<line x1="29.05" y1="500.04" x2="35.35" y2="500.04" stroke="#000" stroke-width="2.0"/>
<text x="28.15" y="504.19" text-anchor="end" class="tk"> 5</text>
<line x1="29.05" y1="471.22" x2="35.35" y2="471.22" stroke="#000" stroke-width="2.0"/>
<text x="28.15" y="475.37" text-anchor="end" class="tk">20</text>
<line x1="29.05" y1="442.4" x2="35.35" y2="442.4" stroke="#000" stroke-width="2.0"/>
<text x="28.15" y="446.55" text-anchor="end" class="tk">25</text>
<path d="M49.85 586.5V500.7H75.85V586.5" fill="none" stroke="#000" stroke-width="2.0"/>
<path d="M91.05 586.5V512.2H117.05V586.5" fill="none" stroke="#000" stroke-width="2.0"/>
<path d="M62.85 500.7V496.3M54.95 496.3H70.75" fill="none" stroke="#000" stroke-width="2.0"/>
<path d="M104.05 512.2V506.3M96.15 506.3H111.95" fill="none" stroke="#000" stroke-width="2.0"/>
<circle cx="62.8" cy="482.8" r="2.35" fill="#000"/>
<circle cx="62.8" cy="494.1" r="2.35" fill="#000"/>
<circle cx="58.3" cy="499.6" r="2.35" fill="#000"/>
<circle cx="67.1" cy="499.6" r="2.35" fill="#000"/>
<circle cx="58.3" cy="506.1" r="2.35" fill="#000"/>
<circle cx="67.1" cy="506.1" r="2.35" fill="#000"/>
<circle cx="62.8" cy="511.8" r="2.35" fill="#000"/>
<circle cx="104" cy="488.7" r="2.25" fill="#f00" stroke="#000" stroke-width="1"/>
<circle cx="99.6" cy="500.2" r="2.25" fill="#f00" stroke="#000" stroke-width="1"/>
<circle cx="108.4" cy="500.2" r="2.25" fill="#f00" stroke="#000" stroke-width="1"/>
<circle cx="95.3" cy="506.1" r="2.25" fill="#f00" stroke="#000" stroke-width="1"/>
<circle cx="104" cy="506.1" r="2.25" fill="#f00" stroke="#000" stroke-width="1"/>
<circle cx="112.8" cy="506.1" r="2.25" fill="#f00" stroke="#000" stroke-width="1"/>
<circle cx="104" cy="511.8" r="2.25" fill="#f00" stroke="#000" stroke-width="1"/>
<circle cx="104" cy="517.6" r="2.25" fill="#f00" stroke="#000" stroke-width="1"/>
<circle cx="104" cy="523.2" r="2.25" fill="#f00" stroke="#000" stroke-width="1"/>
<circle cx="104" cy="529.2" r="2.25" fill="#f00" stroke="#000" stroke-width="1"/>
<circle cx="104" cy="540.6" r="2.25" fill="#f00" stroke="#000" stroke-width="1"/>
<text x="41.7" y="422" class="ti">22°C HFD DARK</text>
<text x="1" y="424.4" class="lt">K</text>
<text transform="translate(9.3 514.7) rotate(-90)" text-anchor="middle" class="yl">Meal number/ 2h</text>
<line x1="183.4" y1="441.5" x2="183.4" y2="588.3" stroke="#000" stroke-width="2.0"/>
<line x1="177.1" y1="586.5" x2="280.9" y2="586.5" stroke="#000" stroke-width="2.0"/>
<text x="175.6" y="590.65" text-anchor="end" class="tk">0.0</text>
<line x1="177.1" y1="557.68" x2="183.4" y2="557.68" stroke="#000" stroke-width="2.0"/>
<text x="175.6" y="561.83" text-anchor="end" class="tk">0. </text>
<line x1="177.1" y1="528.86" x2="183.4" y2="528.86" stroke="#000" stroke-width="2.0"/>
<text x="175.6" y="533.01" text-anchor="end" class="tk">0.2</text>
<line x1="177.1" y1="500.04" x2="183.4" y2="500.04" stroke="#000" stroke-width="2.0"/>
<text x="175.6" y="504.19" text-anchor="end" class="tk">0.3</text>
<line x1="177.1" y1="471.22" x2="183.4" y2="471.22" stroke="#000" stroke-width="2.0"/>
<text x="175.6" y="475.37" text-anchor="end" class="tk">0.4</text>
<line x1="177.1" y1="442.4" x2="183.4" y2="442.4" stroke="#000" stroke-width="2.0"/>
<text x="175.6" y="446.55" text-anchor="end" class="tk">0.5</text>
<path d="M197.9 586.5V547.8H223.9V586.5" fill="none" stroke="#000" stroke-width="2.0"/>
<path d="M239.1 586.5V539H265.1V586.5" fill="none" stroke="#000" stroke-width="2.0"/>
<path d="M210.9 547.8V544.8M203 544.8H218.8" fill="none" stroke="#000" stroke-width="2.0"/>
<path d="M252.1 539V534.6M244.2 534.6H260" fill="none" stroke="#000" stroke-width="2.0"/>
<circle cx="219.4" cy="537.6" r="2.35" fill="#000"/>
<circle cx="210.8" cy="540.6" r="2.35" fill="#000"/>
<circle cx="207" cy="547.2" r="2.35" fill="#000"/>
<circle cx="214.6" cy="547.2" r="2.35" fill="#000"/>
<circle cx="210.8" cy="552.2" r="2.35" fill="#000"/>
<circle cx="219.4" cy="552.2" r="2.35" fill="#000"/>
<circle cx="202" cy="555" r="2.35" fill="#000"/>
<circle cx="251.9" cy="514.6" r="2.25" fill="#f00" stroke="#000" stroke-width="1"/>
<circle cx="255.8" cy="529.1" r="2.25" fill="#f00" stroke="#000" stroke-width="1"/>
<circle cx="248" cy="531.9" r="2.25" fill="#f00" stroke="#000" stroke-width="1"/>
<circle cx="240.6" cy="534.6" r="2.25" fill="#f00" stroke="#000" stroke-width="1"/>
<circle cx="263.5" cy="537.6" r="2.25" fill="#f00" stroke="#000" stroke-width="1"/>
<circle cx="240.6" cy="540.6" r="2.25" fill="#f00" stroke="#000" stroke-width="1"/>
<circle cx="255.8" cy="540.6" r="2.25" fill="#f00" stroke="#000" stroke-width="1"/>
<circle cx="248" cy="546.2" r="2.25" fill="#f00" stroke="#000" stroke-width="1"/>
<circle cx="255.8" cy="546.2" r="2.25" fill="#f00" stroke="#000" stroke-width="1"/>
<circle cx="263.5" cy="546.2" r="2.25" fill="#f00" stroke="#000" stroke-width="1"/>
<circle cx="240.6" cy="549.1" r="2.25" fill="#f00" stroke="#000" stroke-width="1"/>
<path d="M209.6 507V498.2H252.2V507" fill="none" stroke="#000" stroke-width="2.0"/>
<path d="M231.1 486.1V492.9M228.15 487.8L234.05 491.2M228.15 491.2L234.05 487.8" fill="none" stroke="#000" stroke-width="1.35"/>
<text x="184.5" y="422" class="ti">22°C HFD DARK</text>
<text x="142" y="424.4" class="lt">L</text>
<text transform="translate(154.5 514.8) rotate(-90)" text-anchor="middle" class="yl">Meal size (g/meal)</text>
<line x1="333" y1="441.5" x2="333" y2="588.3" stroke="#000" stroke-width="2.0"/>
<line x1="326.7" y1="586.5" x2="430.5" y2="586.5" stroke="#000" stroke-width="2.0"/>
<text x="325.8" y="590.65" text-anchor="end" class="tk">0</text>
<line x1="326.7" y1="538.47" x2="333" y2="538.47" stroke="#000" stroke-width="2.0"/>
<text x="325.8" y="542.62" text-anchor="end" class="tk">50</text>
<line x1="326.7" y1="490.43" x2="333" y2="490.43" stroke="#000" stroke-width="2.0"/>
<text x="325.8" y="494.58" text-anchor="end" class="tk"> 00</text>
<line x1="326.7" y1="442.4" x2="333" y2="442.4" stroke="#000" stroke-width="2.0"/>
<text x="325.8" y="446.55" text-anchor="end" class="tk"> 50</text>
<path d="M347.5 586.5V533.6H373.5V586.5" fill="none" stroke="#000" stroke-width="2.0"/>
<path d="M388.7 586.5V532.4H414.7V586.5" fill="none" stroke="#000" stroke-width="2.0"/>
<path d="M360.5 533.6V529.4M352.6 529.4H368.4" fill="none" stroke="#000" stroke-width="2.0"/>
<path d="M401.7 532.4V526.6M393.8 526.6H409.6" fill="none" stroke="#000" stroke-width="2.0"/>
<circle cx="360.4" cy="517.9" r="2.35" fill="#000"/>
<circle cx="356.3" cy="529.4" r="2.35" fill="#000"/>
<circle cx="348.7" cy="531.6" r="2.35" fill="#000"/>
<circle cx="371.8" cy="531.6" r="2.35" fill="#000"/>
<circle cx="360.8" cy="531.6" r="2.35" fill="#000"/>
<circle cx="360.4" cy="540.8" r="2.35" fill="#000"/>
<circle cx="360.4" cy="550.7" r="2.35" fill="#000"/>
<circle cx="401.6" cy="484.8" r="2.25" fill="#f00" stroke="#000" stroke-width="1"/>
<circle cx="401.6" cy="520.2" r="2.25" fill="#f00" stroke="#000" stroke-width="1"/>
<circle cx="401.6" cy="526.3" r="2.25" fill="#f00" stroke="#000" stroke-width="1"/>
<circle cx="401.6" cy="532.4" r="2.25" fill="#f00" stroke="#000" stroke-width="1"/>
<circle cx="392.8" cy="533.9" r="2.25" fill="#f00" stroke="#000" stroke-width="1"/>
<circle cx="401.6" cy="537.7" r="2.25" fill="#f00" stroke="#000" stroke-width="1"/>
<circle cx="410.3" cy="538" r="2.25" fill="#f00" stroke="#000" stroke-width="1"/>
<circle cx="392.8" cy="541.5" r="2.25" fill="#f00" stroke="#000" stroke-width="1"/>
<circle cx="410.3" cy="542.6" r="2.25" fill="#f00" stroke="#000" stroke-width="1"/>
<circle cx="401.6" cy="544.6" r="2.25" fill="#f00" stroke="#000" stroke-width="1"/>
<circle cx="401.6" cy="551" r="2.25" fill="#f00" stroke="#000" stroke-width="1"/>
<text x="334.9" y="422" class="ti">22°C HFD DARK</text>
<text x="286.5" y="424.4" class="lt">M</text>
<text transform="translate(302.5 514.5) rotate(-90)" text-anchor="middle" class="yl">Inter-meal interval (min)</text>
<line x1="494.7" y1="441.5" x2="494.7" y2="588.3" stroke="#000" stroke-width="2.0"/>
<line x1="488.4" y1="586.5" x2="592.2" y2="586.5" stroke="#000" stroke-width="2.0"/>
<text x="487.5" y="590.65" text-anchor="end" class="tk">0</text>
<line x1="488.4" y1="550.48" x2="494.7" y2="550.48" stroke="#000" stroke-width="2.0"/>
<text x="487.5" y="554.62" text-anchor="end" class="tk">200</text>
<line x1="488.4" y1="514.45" x2="494.7" y2="514.45" stroke="#000" stroke-width="2.0"/>
<text x="487.5" y="518.6" text-anchor="end" class="tk">400</text>
<line x1="488.4" y1="478.42" x2="494.7" y2="478.42" stroke="#000" stroke-width="2.0"/>
<text x="487.5" y="482.57" text-anchor="end" class="tk">600</text>
<line x1="488.4" y1="442.4" x2="494.7" y2="442.4" stroke="#000" stroke-width="2.0"/>
<text x="487.5" y="446.55" text-anchor="end" class="tk">800</text>
<path d="M509.2 586.5V512.8H535.2V586.5" fill="none" stroke="#000" stroke-width="2.0"/>
<path d="M550.4 586.5V527.2H576.4V586.5" fill="none" stroke="#000" stroke-width="2.0"/>
<path d="M522.2 512.8V505.7M514.3 505.7H530.1" fill="none" stroke="#000" stroke-width="2.0"/>
<path d="M563.4 527.2V523.5M555.5 523.5H571.3" fill="none" stroke="#000" stroke-width="2.0"/>
<circle cx="513.2" cy="493.3" r="2.35" fill="#000"/>
<circle cx="531" cy="494.3" r="2.35" fill="#000"/>
<circle cx="522" cy="497.6" r="2.35" fill="#000"/>
<circle cx="522" cy="514.5" r="2.35" fill="#000"/>
<circle cx="522" cy="523.5" r="2.35" fill="#000"/>
<circle cx="526.4" cy="529" r="2.35" fill="#000"/>
<circle cx="517.8" cy="531.9" r="2.35" fill="#000"/>
<circle cx="559.4" cy="510.3" r="2.25" fill="#f00" stroke="#000" stroke-width="1"/>
<circle cx="567" cy="510.3" r="2.25" fill="#f00" stroke="#000" stroke-width="1"/>
<circle cx="559.4" cy="515.8" r="2.25" fill="#f00" stroke="#000" stroke-width="1"/>
<circle cx="567" cy="515.8" r="2.25" fill="#f00" stroke="#000" stroke-width="1"/>
<circle cx="551.8" cy="529.4" r="2.25" fill="#f00" stroke="#000" stroke-width="1"/>
<circle cx="559.4" cy="531.1" r="2.25" fill="#f00" stroke="#000" stroke-width="1"/>
<circle cx="567" cy="529.4" r="2.25" fill="#f00" stroke="#000" stroke-width="1"/>
<circle cx="559.4" cy="535.6" r="2.25" fill="#f00" stroke="#000" stroke-width="1"/>
<circle cx="551.8" cy="539.2" r="2.25" fill="#f00" stroke="#000" stroke-width="1"/>
<circle cx="567" cy="537.8" r="2.25" fill="#f00" stroke="#000" stroke-width="1"/>
<circle cx="574.6" cy="537.8" r="2.25" fill="#f00" stroke="#000" stroke-width="1"/>
<path d="M521.7 483.3V475.2H563.1V483.3" fill="none" stroke="#000" stroke-width="2.0"/>
<path d="M542.3 462.5V469.3M539.35 464.2L545.25 467.6M539.35 467.6L545.25 464.2" fill="none" stroke="#000" stroke-width="1.35"/>
<text x="495.7" y="422" class="ti">22°C HFD DARK</text>
<text x="443" y="424.4" class="lt">N</text>
<text transform="translate(447.9 514.8) rotate(-90)" text-anchor="middle" class="yl">Satiety ratio</text>
<text transform="translate(462.5 514.8) rotate(-90)" text-anchor="middle" class="yl">(min/g food eaten)</text>
<line x1="640.1" y1="441.5" x2="640.1" y2="588.3" stroke="#000" stroke-width="2.0"/>
<line x1="633.8" y1="586.5" x2="737.6" y2="586.5" stroke="#000" stroke-width="2.0"/>
<text x="632.9" y="590.65" text-anchor="end" class="tk">0</text>
<line x1="633.8" y1="557.68" x2="640.1" y2="557.68" stroke="#000" stroke-width="2.0"/>
<text x="632.9" y="561.83" text-anchor="end" class="tk"> </text>
<line x1="633.8" y1="528.86" x2="640.1" y2="528.86" stroke="#000" stroke-width="2.0"/>
<text x="632.9" y="533.01" text-anchor="end" class="tk">2</text>
<line x1="633.8" y1="500.04" x2="640.1" y2="500.04" stroke="#000" stroke-width="2.0"/>
<text x="632.9" y="504.19" text-anchor="end" class="tk">3</text>
<line x1="633.8" y1="471.22" x2="640.1" y2="471.22" stroke="#000" stroke-width="2.0"/>
<text x="632.9" y="475.37" text-anchor="end" class="tk">4</text>
<line x1="633.8" y1="442.4" x2="640.1" y2="442.4" stroke="#000" stroke-width="2.0"/>
<text x="632.9" y="446.55" text-anchor="end" class="tk">5</text>
<path d="M654.6 586.5V528.7H680.6V586.5" fill="none" stroke="#000" stroke-width="2.0"/>
<path d="M695.8 586.5V525.7H721.8V586.5" fill="none" stroke="#000" stroke-width="2.0"/>
<path d="M667.6 528.7V523.8M659.7 523.8H675.5" fill="none" stroke="#000" stroke-width="2.0"/>
<path d="M708.8 525.7V522.1M700.9 522.1H716.7" fill="none" stroke="#000" stroke-width="2.0"/>
<circle cx="667.4" cy="513.9" r="2.35" fill="#000"/>
<circle cx="667.4" cy="518.7" r="2.35" fill="#000"/>
<circle cx="663.3" cy="525.9" r="2.35" fill="#000"/>
<circle cx="672.1" cy="523" r="2.35" fill="#000"/>
<circle cx="663.3" cy="535.1" r="2.35" fill="#000"/>
<circle cx="663.3" cy="540.2" r="2.35" fill="#000"/>
<circle cx="671.7" cy="539.4" r="2.35" fill="#000"/>
<circle cx="697" cy="519.2" r="2.25" fill="#f00" stroke="#000" stroke-width="1"/>
<circle cx="704.9" cy="521.8" r="2.25" fill="#f00" stroke="#000" stroke-width="1"/>
<circle cx="712.4" cy="516.7" r="2.25" fill="#f00" stroke="#000" stroke-width="1"/>
<circle cx="712.4" cy="521.8" r="2.25" fill="#f00" stroke="#000" stroke-width="1"/>
<circle cx="720.2" cy="514.2" r="2.25" fill="#f00" stroke="#000" stroke-width="1"/>
<circle cx="720.2" cy="519.6" r="2.25" fill="#f00" stroke="#000" stroke-width="1"/>
<circle cx="720.2" cy="524.3" r="2.25" fill="#f00" stroke="#000" stroke-width="1"/>
<circle cx="708.6" cy="528.7" r="2.25" fill="#f00" stroke="#000" stroke-width="1"/>
<circle cx="704.9" cy="533.1" r="2.25" fill="#f00" stroke="#000" stroke-width="1"/>
<circle cx="712.4" cy="536" r="2.25" fill="#f00" stroke="#000" stroke-width="1"/>
<circle cx="704.9" cy="538.1" r="2.25" fill="#f00" stroke="#000" stroke-width="1"/>
<text x="641.3" y="422" class="ti">22°C HFD DARK</text>
<text x="603" y="424.4" class="lt">O</text>
<text transform="translate(619.5 514.7) rotate(-90)" text-anchor="middle" class="yl">Food intake (g)</text>
<circle cx="43" cy="24.9" r="3.0" fill="#000"/>
<circle cx="43" cy="44.5" r="2.5" fill="#f00" stroke="#000" stroke-width="1"/>
<text x="53" y="27.6" class="lg">TGR5<tspan class="sup" dy="-4.7">fl/fl</tspan></text>
<text x="52.6" y="46.5" class="lg">SF <tspan class="sup" dy="-4.7">Cre</tspan><tspan dy="4.7">/TGR5</tspan><tspan class="sup" dy="-4.7">fl/fl</tspan></text>
<path transform="translate(17.050 123.250) scale(0.005371 -0.005371)" d="M478 0L759 0L759 1409L493 1409L140 1180L140 959L478 1170Z" fill="rgb(0, 0, 0)"/>
<path transform="translate(17.050 94.350) scale(0.005371 -0.005371)" d="M478 0L759 0L759 1409L493 1409L140 1180L140 959L478 1170Z" fill="rgb(0, 0, 0)"/>
<path transform="translate(10.2 105) rotate(-90) translate(28.328 0.000) scale(0.005859 -0.005859)" d="M478 0L759 0L759 1409L493 1409L140 1180L140 959L478 1170Z" fill="rgb(0, 0, 0)"/>
<path transform="translate(167.575 152.150) scale(0.005371 -0.005371)" d="M478 0L759 0L759 1409L493 1409L140 1180L140 959L478 1170Z" fill="rgb(0, 0, 0)"/>
<path transform="translate(305.041 123.250) scale(0.005371 -0.005371)" d="M478 0L759 0L759 1409L493 1409L140 1180L140 959L478 1170Z" fill="rgb(0, 0, 0)"/>
<path transform="translate(305.041 94.350) scale(0.005371 -0.005371)" d="M478 0L759 0L759 1409L493 1409L140 1180L140 959L478 1170Z" fill="rgb(0, 0, 0)"/>
<path transform="translate(621.675 152.150) scale(0.005371 -0.005371)" d="M478 0L759 0L759 1409L493 1409L140 1180L140 959L478 1170Z" fill="rgb(0, 0, 0)"/>
<path transform="translate(614.9 104.5) rotate(-90) translate(35.984 0.000) scale(0.005859 -0.005859)" d="M478 0L759 0L759 1409L493 1409L140 1180L140 959L478 1170Z" fill="rgb(0, 0, 0)"/>
<path transform="translate(16.850 329.830) scale(0.005371 -0.005371)" d="M478 0L759 0L759 1409L493 1409L140 1180L140 959L478 1170Z" fill="rgb(0, 0, 0)"/>
<path transform="translate(16.850 300.970) scale(0.005371 -0.005371)" d="M478 0L759 0L759 1409L493 1409L140 1180L140 959L478 1170Z" fill="rgb(0, 0, 0)"/>
<path transform="translate(10.2 312) rotate(-90) translate(28.328 0.000) scale(0.005859 -0.005859)" d="M478 0L759 0L759 1409L493 1409L140 1180L140 959L478 1170Z" fill="rgb(0, 0, 0)"/>
<path transform="translate(169.875 358.690) scale(0.005371 -0.005371)" d="M478 0L759 0L759 1409L493 1409L140 1180L140 959L478 1170Z" fill="rgb(0, 0, 0)"/>
<path transform="translate(308.341 291.350) scale(0.005371 -0.005371)" d="M478 0L759 0L759 1409L493 1409L140 1180L140 959L478 1170Z" fill="rgb(0, 0, 0)"/>
<path transform="translate(308.341 243.250) scale(0.005371 -0.005371)" d="M478 0L759 0L759 1409L493 1409L140 1180L140 959L478 1170Z" fill="rgb(0, 0, 0)"/>
<path transform="translate(624.275 358.690) scale(0.005371 -0.005371)" d="M478 0L759 0L759 1409L493 1409L140 1180L140 959L478 1170Z" fill="rgb(0, 0, 0)"/>
<path transform="translate(616.4 310.5) rotate(-90) translate(35.984 0.000) scale(0.005859 -0.005859)" d="M478 0L759 0L759 1409L493 1409L140 1180L140 959L478 1170Z" fill="rgb(0, 0, 0)"/>
<path transform="translate(15.900 533.010) scale(0.005371 -0.005371)" d="M478 0L759 0L759 1409L493 1409L140 1180L140 959L478 1170Z" fill="rgb(0, 0, 0)"/>
<path transform="translate(15.900 504.190) scale(0.005371 -0.005371)" d="M478 0L759 0L759 1409L493 1409L140 1180L140 959L478 1170Z" fill="rgb(0, 0, 0)"/>
<path transform="translate(9.3 514.7) rotate(-90) translate(28.328 0.000) scale(0.005859 -0.005859)" d="M478 0L759 0L759 1409L493 1409L140 1180L140 959L478 1170Z" fill="rgb(0, 0, 0)"/>
<path transform="translate(169.475 561.830) scale(0.005371 -0.005371)" d="M478 0L759 0L759 1409L493 1409L140 1180L140 959L478 1170Z" fill="rgb(0, 0, 0)"/>
<path transform="translate(307.441 494.580) scale(0.005371 -0.005371)" d="M478 0L759 0L759 1409L493 1409L140 1180L140 959L478 1170Z" fill="rgb(0, 0, 0)"/>
<path transform="translate(307.441 446.550) scale(0.005371 -0.005371)" d="M478 0L759 0L759 1409L493 1409L140 1180L140 959L478 1170Z" fill="rgb(0, 0, 0)"/>
<path transform="translate(626.775 561.830) scale(0.005371 -0.005371)" d="M478 0L759 0L759 1409L493 1409L140 1180L140 959L478 1170Z" fill="rgb(0, 0, 0)"/>
<path transform="translate(66.881 46.500) scale(0.005469 -0.005469)" d="M515 0L696 0L696 1409L530 1409L197 1180L197 1010L515 1237Z" fill="rgb(34, 34, 34)"/>
</svg>
</body></html>
